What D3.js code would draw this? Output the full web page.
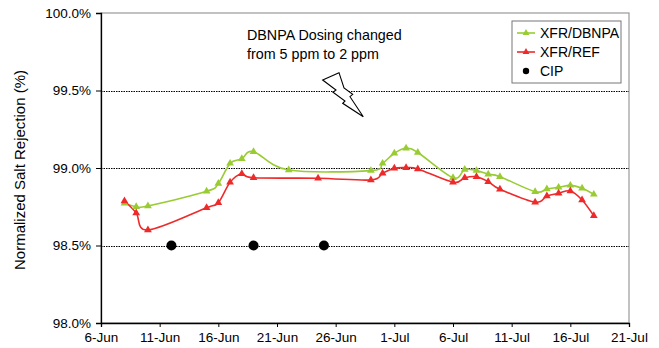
<!DOCTYPE html>
<html>
<head>
<meta charset="utf-8">
<script src="https://cdn.jsdelivr.net/npm/d3@7"></script>
<style>
  html, body { margin: 0; padding: 0; background: #fff; }
  svg { display: block; font-family: "Liberation Sans", Arial, Helvetica, sans-serif; }
</style>
</head>
<body>
<svg id="chart" width="659" height="348"></svg>
<script>
// ---- data ----
const dbnpaDates = ["2008-06-08","2008-06-09","2008-06-10","2008-06-15","2008-06-16","2008-06-17","2008-06-18","2008-06-19","2008-06-22","2008-06-29","2008-06-30","2008-07-01","2008-07-02","2008-07-03","2008-07-06","2008-07-07","2008-07-08","2008-07-09","2008-07-10","2008-07-13","2008-07-14","2008-07-15","2008-07-16","2008-07-17","2008-07-18"];
const dbnpaValues = [98.772, 98.750, 98.755, 98.850, 98.900, 99.030, 99.060, 99.105, 98.987, 98.983, 99.030, 99.095, 99.127, 99.100, 98.937, 98.990, 98.983, 98.960, 98.944, 98.847, 98.865, 98.875, 98.888, 98.869, 98.830];

const refDates = ["2008-06-08","2008-06-09","2008-06-10","2008-06-15","2008-06-16","2008-06-17","2008-06-18","2008-06-19","2008-06-24T12:00","2008-06-29","2008-06-30","2008-07-01","2008-07-02","2008-07-03","2008-07-06","2008-07-07","2008-07-08","2008-07-09","2008-07-10","2008-07-13","2008-07-14","2008-07-15","2008-07-16","2008-07-17","2008-07-18"];
const refValues = [98.787, 98.710, 98.600, 98.744, 98.776, 98.908, 98.963, 98.937, 98.934, 98.923, 98.966, 98.998, 99.002, 98.994, 98.908, 98.937, 98.944, 98.912, 98.863, 98.779, 98.819, 98.837, 98.852, 98.794, 98.692];

const cipDates = ["2008-06-12","2008-06-19","2008-06-25"];
const cipValues = [98.5, 98.5, 98.5];

const xTickDates = ["2008-06-06","2008-06-11","2008-06-16","2008-06-21","2008-06-26","2008-07-01","2008-07-06","2008-07-11","2008-07-16","2008-07-21"];
const yTickValues = [98.0, 98.5, 99.0, 99.5, 100.0];
const gridValues = [98.5, 99.0, 99.5];

const seriesNames = ["XFR/DBNPA", "XFR/REF", "CIP"];
const annotationLines = ["DBNPA Dosing changed", "from 5 ppm to 2 ppm"];
const yTitle = "Normalized Salt Rejection (%)";

// ---- layout ----
const svg = d3.select("#chart");
const mLeft = 101, mRight = 629, mTop = 13, mBottom = 323;
const green = "#99cc33", red = "#ee2a2a";

const parse = s => d3.isoParse(s);
const x = d3.scaleUtc()
  .domain([parse(xTickDates[0]), parse(xTickDates[xTickDates.length - 1])])
  .range([mLeft, mRight]);
const y = d3.scaleLinear().domain([98, 100]).range([mBottom, mTop]);

const dbnpa = dbnpaDates.map((d, i) => ({ date: parse(d), value: dbnpaValues[i] }));
const ref = refDates.map((d, i) => ({ date: parse(d), value: refValues[i] }));
const cip = cipDates.map((d, i) => ({ date: parse(d), value: cipValues[i] }));

// plot frame (top & right in grey)
svg.append("rect")
  .attr("x", mLeft).attr("y", mTop)
  .attr("width", mRight - mLeft).attr("height", mBottom - mTop)
  .attr("fill", "none").attr("stroke", "#999").attr("stroke-width", 1.2);

// dotted grid lines
svg.append("g").selectAll("line").data(gridValues).join("line")
  .attr("x1", mLeft).attr("x2", mRight)
  .attr("y1", d => Math.round(y(d)) + 0.5).attr("y2", d => Math.round(y(d)) + 0.5)
  .attr("stroke", "#000").attr("stroke-width", 1)
  .attr("stroke-dasharray", "1.5,1");

// axes
const fmtPct = d3.format(".1f");
const yAxis = svg.append("g").attr("transform", `translate(${mLeft},0)`)
  .call(d3.axisLeft(y).tickValues(yTickValues).tickFormat(d => fmtPct(d) + "%").tickSize(5).tickPadding(5));
const xAxis = svg.append("g").attr("transform", `translate(0,${mBottom})`)
  .call(d3.axisBottom(x).tickValues(xTickDates.map(parse)).tickFormat(d3.utcFormat("%-d-%b")).tickSize(4).tickPadding(5));
[yAxis, xAxis].forEach(g => {
  g.select(".domain").attr("stroke", "#000").attr("stroke-width", 1.3);
  g.selectAll(".tick line").attr("stroke", "#000");
  g.selectAll("text").attr("font-size", 13.5).attr("fill", "#000")
    .attr("font-family", "'Liberation Sans', Arial, Helvetica, sans-serif");
});

// y title
svg.append("text")
  .attr("transform", `translate(25,${(mTop + mBottom) / 2 + 2}) rotate(-90)`)
  .attr("text-anchor", "middle").attr("font-size", 15).attr("fill", "#000")
  .text(yTitle);

// lines
const line = d3.line().x(d => x(d.date)).y(d => y(d.value)).curve(d3.curveCardinal.tension(0));
svg.append("path").datum(dbnpa).attr("d", line)
  .attr("fill", "none").attr("stroke", green).attr("stroke-width", 1.6);
svg.append("path").datum(ref).attr("d", line)
  .attr("fill", "none").attr("stroke", red).attr("stroke-width", 1.6);

const tri = d3.symbol().type(d3.symbolTriangle).size(26);
svg.append("g").selectAll("path").data(dbnpa).join("path")
  .attr("d", tri).attr("transform", d => `translate(${x(d.date)},${y(d.value)})`)
  .attr("fill", green);
svg.append("g").selectAll("path").data(ref).join("path")
  .attr("d", tri).attr("transform", d => `translate(${x(d.date)},${y(d.value)})`)
  .attr("fill", red);

// CIP dots
svg.append("g").selectAll("circle").data(cip).join("circle")
  .attr("cx", d => x(d.date)).attr("cy", d => y(d.value)).attr("r", 5)
  .attr("fill", "#000");

// annotation
const ann = svg.append("text").attr("x", 247).attr("font-size", 14.3).attr("fill", "#000");
annotationLines.forEach((t, i) => ann.append("tspan").attr("x", 247).attr("y", 40 + i * 19).text(t));

// lightning bolt
svg.append("path")
  .attr("d", "M322.7,80 L339,72.7 L344,88 L352.7,94.3 L350,96.7 L363.3,116.7 L342.7,103.3 L345,101 L333,92.3 L336,90 Z")
  .attr("fill", "#fff").attr("stroke", "#000").attr("stroke-width", 1.1).attr("stroke-linejoin", "miter");

// legend
const lg = svg.append("g");
lg.append("rect").attr("x", 512).attr("y", 21).attr("width", 109).attr("height", 62)
  .attr("fill", "#fff").attr("stroke", "#777").attr("stroke-width", 1);
const legendColors = [green, red, "#000"];
seriesNames.forEach((name, i) => {
  const cy = 33 + i * 19;
  if (i < 2) {
    lg.append("line").attr("x1", 517).attr("x2", 535).attr("y1", cy).attr("y2", cy)
      .attr("stroke", legendColors[i]).attr("stroke-width", 1.6);
    lg.append("path").attr("d", d3.symbol().type(d3.symbolTriangle).size(20))
      .attr("transform", `translate(526,${cy})`).attr("fill", legendColors[i]);
  } else {
    lg.append("circle").attr("cx", 526).attr("cy", cy).attr("r", 3.2).attr("fill", "#000");
  }
  lg.append("text").attr("x", 540).attr("y", cy + 5).attr("font-size", 14).attr("fill", "#000").text(name);
});
</script>
</body>
</html>
